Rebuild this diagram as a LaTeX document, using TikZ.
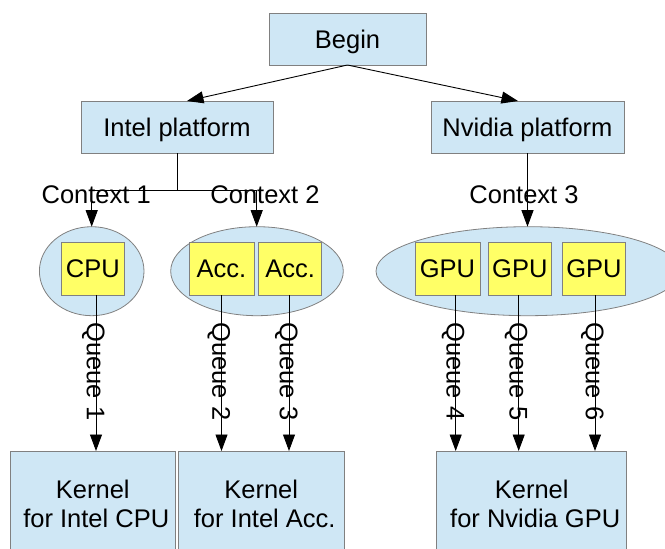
\documentclass[tikz,border=0pt]{standalone}
\usepackage{fontspec}
\setmainfont{Liberation Sans}
\usetikzlibrary{arrows.meta,shapes.geometric}
\definecolor{boxblue}{HTML}{CFE7F5}
\definecolor{chipyellow}{HTML}{FFFF66}
\definecolor{edgegray}{HTML}{808080}
\begin{document}
\begin{tikzpicture}[x=1pt,y=-1pt,
  every node/.style={font=\fontsize{25.5}{28.4}\selectfont, inner sep=0pt, outer sep=0pt},
  bluebox/.style={draw=edgegray, line width=0.8pt, fill=boxblue, rectangle, text height=18.3pt, text depth=0pt},
  kernelbox/.style={draw=edgegray, line width=0.8pt, fill=boxblue, rectangle, align=center, minimum height=106pt},
  chip/.style={draw=edgegray, line width=0.8pt, fill=chipyellow, rectangle, minimum height=52.3pt, text height=18.3pt, text depth=0pt},
  ctx/.style={draw=edgegray, line width=0.8pt, fill=boxblue, ellipse, minimum height=89pt},
  link/.style={draw=black, line width=0.9pt},
  arr/.style={link, -{Triangle[length=16.5pt,width=12pt]}},
  lbl/.style={anchor=base},
  qlbl/.style={rotate=-90, text height=18.3pt, text depth=0pt}
]
\useasboundingbox (0,0) rectangle (665,549);
\clip (0,0) rectangle (665,549);

% top boxes
\node[bluebox, minimum width=157pt, minimum height=52pt] (begin) at (347.5,39) {Begin};
\node[bluebox, minimum width=192pt, minimum height=52pt] (intel) at (177,127) {Intel platform};
\node[bluebox, minimum width=193pt, minimum height=52pt] (nvidia) at (527.5,127) {Nvidia platform};

% contexts
\node[ctx, minimum width=104.6pt] (e1) at (91.7,271.2) {};
\node[ctx, minimum width=172.6pt] (e2) at (257,271.2) {};
\node[ctx, minimum width=304pt] (e3) at (528,271.2) {};

% devices
\node[chip, minimum width=62.3pt] (cpu) at (92.8,268.8) {CPU};
\node[chip, minimum width=65pt] (acc1) at (221.5,268.8) {Acc.};
\node[chip, minimum width=63pt] (acc2) at (290.2,268.8) {Acc.};
\node[chip, minimum width=65pt] (gpu1) at (447.5,268.8) {GPU};
\node[chip, minimum width=62.3pt] (gpu2) at (519.8,268.8) {GPU};
\node[chip, minimum width=63.4pt] (gpu3) at (594,268.8) {GPU};

% kernels
\node[kernelbox, minimum width=165.7pt] (k1) at (92.8,504) {Kernel\\\hspace*{7pt}for Intel CPU};
\node[kernelbox, minimum width=165.7pt] (k2) at (261.2,504) {Kernel\\\hspace*{7pt}for Intel Acc.};
\node[kernelbox, minimum width=190pt] (k3) at (531.7,504) {Kernel\\\hspace*{7pt}for Nvidia GPU};

% begin -> platforms
\draw[arr] (begin.south) -- ([xshift=10pt]intel.north);
\draw[arr] (begin.south) -- ([xshift=-9.5pt]nvidia.north);

% platform -> contexts
\coordinate (c1) at (91.7,190.7);
\coordinate (c2) at (256.7,190.7);
\draw[link] (intel.south) -- (intel.south |- c1);
\draw[link] (c1) -- (c2);
\draw[arr] (c1) -- (c1 |- e1.north);
\draw[arr] (c2) -- (c2 |- e2.north);
\draw[arr] (nvidia.south) -- (nvidia.south |- e3.north);

\node[lbl] (ctx1) at (96.2,203.3) {Context 1};
\node[lbl] (ctx2) at (265,203.3) {Context 2};
\node[lbl] (ctx3) at (524,203.3) {Context 3};

% queues
\draw[arr] ([xshift=3.2pt]cpu.south) -- ([xshift=3.2pt]cpu.south |- k1.north) node[qlbl, midway, xshift=-1.5pt] (q1) {Queue 1};
\draw[arr] (acc1.south) -- (acc1.south |- k2.north) node[qlbl, midway, xshift=-1.5pt] (q2) {Queue 2};
\draw[arr] ([xshift=-1.2pt]acc2.south) -- ([xshift=-1.2pt]acc2.south |- k2.north) node[qlbl, midway, xshift=-1.5pt] (q3) {Queue 3};
\draw[arr] ([xshift=8.2pt]gpu1.south) -- ([xshift=8.2pt]gpu1.south |- k3.north) node[qlbl, midway, xshift=-1.5pt] (q4) {Queue 4};
\draw[arr] ([xshift=-1.1pt]gpu2.south) -- ([xshift=-1.1pt]gpu2.south |- k3.north) node[qlbl, midway, xshift=-1.5pt] (q5) {Queue 5};
\draw[arr] ([xshift=1pt]gpu3.south) -- ([xshift=1pt]gpu3.south |- k3.north) node[qlbl, midway, xshift=-1.5pt] (q6) {Queue 6};
\end{tikzpicture}
\end{document}
